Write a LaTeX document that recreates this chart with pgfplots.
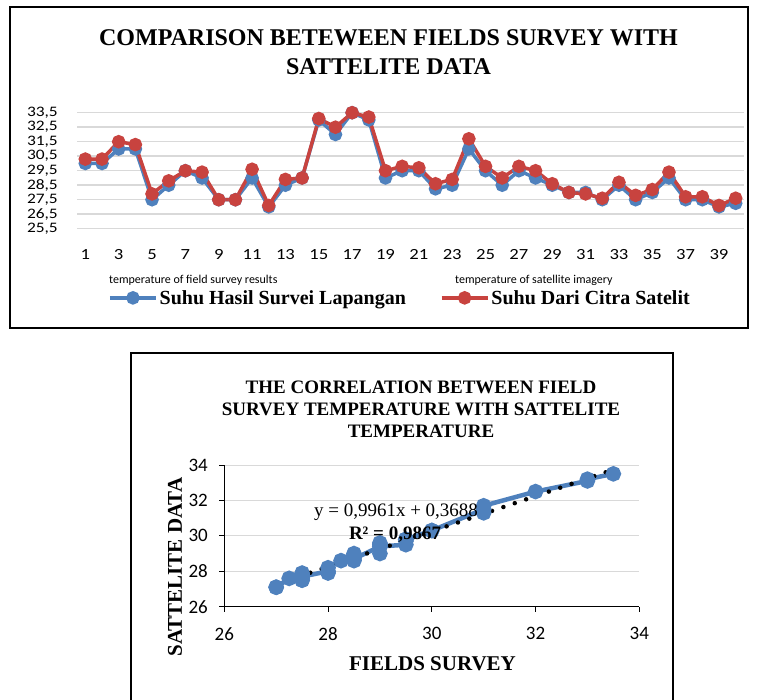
\documentclass[border=0pt]{standalone}
\usepackage{fontspec}
\setmainfont{Liberation Serif}
\newfontfamily\calfont{Carlito}
\newfontfamily\calwide[FakeStretch=1.2]{Carlito}
\usepackage{pgfplots}
\usepackage{pgfplotstable}
\pgfplotsset{compat=1.18}
\definecolor{xblue}{HTML}{4F81BD}
\definecolor{xred}{HTML}{C8433F}
\definecolor{gridc}{HTML}{D9D9D9}

\pgfplotstableread{
idx field sat
1 30.0 30.3
2 30.0 30.3
3 31.0 31.5
4 31.0 31.3
5 27.5 27.9
6 28.5 28.8
7 29.5 29.5
8 29.0 29.4
9 27.5 27.5
10 27.5 27.5
11 29.0 29.6
12 27.0 27.1
13 28.5 28.9
14 29.0 29.0
15 33.0 33.1
16 32.0 32.5
17 33.5 33.5
18 33.0 33.2
19 29.0 29.5
20 29.5 29.8
21 29.5 29.7
22 28.25 28.6
23 28.5 28.9
24 31.0 31.7
25 29.5 29.8
26 28.5 29.0
27 29.5 29.8
28 29.0 29.5
29 28.5 28.6
30 28.0 28.0
31 28.0 27.9
32 27.5 27.6
33 28.5 28.7
34 27.5 27.8
35 28.0 28.2
36 29.0 29.4
37 27.5 27.7
38 27.5 27.7
39 27.0 27.1
40 27.25 27.6
}\data
\pgfplotstablesort[sort key=field]{\sorted}{\data}

\begin{document}
\begin{tikzpicture}
\path[use as bounding box] (0pt,0pt) rectangle (757pt,-700pt);
\draw[line width=2pt] (10pt,-7pt) rectangle (748pt,-328pt);
\draw[line width=1.3pt] (131pt,-701pt) -- (131pt,-353pt) -- (673pt,-353pt) -- (673pt,-701pt);

\node[font=\bfseries\fontsize{24}{29}\selectfont, align=center] at (388.5pt,-52.5pt) {COMPARISON BETEWEEN FIELDS SURVEY WITH\\SATTELITE DATA};

\begin{axis}[
  at={(77pt,-228.7pt)}, anchor=south west,
  scale only axis, width=667pt, height=130.5pt,
  xmin=0.5, xmax=40.5, ymin=25.5, ymax=34.5,
  xtick={1,3,...,39}, ytick={25.5,26.5,...,33.5},
  ymajorgrids, grid style={gridc, line width=1.5pt},
  axis line style={draw=none}, major tick length=0pt,
  yticklabel style={font=\calwide\fontsize{14.5}{14.5}\selectfont, inner sep=0pt, xshift=-19pt,
    /pgf/number format/.cd, fixed, fixed zerofill, precision=1, use comma},
  xticklabel style={font=\calwide\fontsize{15.5}{15.5}\selectfont, yshift=-17pt},
  /pgf/number format/assume math mode=true,
  legend columns=2,
  legend style={at={(0.0465,-0.53)}, anchor=west, draw=none, fill=none, inner sep=0pt,
    font=\bfseries\fontsize{20}{20}\selectfont,
    /tikz/every even column/.append style={column sep=32pt}},
  legend image code/.code={\draw[#1, mark repeat=2, mark phase=2] plot coordinates {(0pt,0pt) (23pt,0pt) (46pt,0pt)};},
]
\addplot[xblue, line width=3.5pt, mark=*, mark size=5pt, mark options={solid}] table[x=idx, y=field]{\data};
\addlegendentry{Suhu Hasil Survei Lapangan}
\addplot[xred, line width=3.5pt, mark=*, mark size=5pt, mark options={solid}] table[x=idx, y=sat]{\data};
\addlegendentry{Suhu Dari Citra Satelit}
\end{axis}

\node[anchor=west, inner sep=0pt, font=\calfont\fontsize{12}{12}\selectfont] at (109pt,-280pt) {temperature of field survey results};
\node[anchor=west, inner sep=0pt, font=\calfont\fontsize{12}{12}\selectfont] at (455pt,-280pt) {temperature of satellite imagery};

\node[font=\bfseries\fontsize{19}{22}\selectfont, align=center] at (421pt,-409pt) {THE CORRELATION BETWEEN FIELD\\SURVEY TEMPERATURE WITH SATTELITE\\TEMPERATURE};

\begin{axis}[
  at={(224.3pt,-606.7pt)}, anchor=south west,
  scale only axis, width=415pt, height=141.7pt,
  xmin=26, xmax=34, ymin=26, ymax=34,
  xtick={26,28,...,34}, ytick={26,28,...,34},
  axis x line*=bottom, axis y line*=left,
  axis line style={black, line width=1pt, -},
  tick style={black, line width=1pt}, tick align=outside, major tick length=5pt,
  ymajorgrids, grid style={gridc, line width=1pt},
  tick label style={font=\calfont\fontsize{19}{19}\selectfont},
  xticklabel style={yshift=-12pt},
  yticklabel style={xshift=-8pt},
  /pgf/number format/assume math mode=true,
]
\addplot[xblue, line width=4.5pt, mark=*, mark size=5.5pt, mark options={solid}] table[x=field, y=sat]{\sorted};
\addplot[black, line width=4.5pt, line cap=round, dash pattern=on 0pt off 12pt] coordinates {(27,27.2635) (33.5,33.7382)};
\end{axis}

\node[font=\fontsize{19}{19}\selectfont] at (396pt,-512pt) {y = 0,9961x + 0,3688};
\node[font=\bfseries\fontsize{19}{19}\selectfont] at (395pt,-535pt) {R² = 0,9867};
\node[rotate=90, font=\bfseries\fontsize{21}{21}\selectfont] at (175pt,-567pt) {SATTELITE DATA};
\node[font=\bfseries\fontsize{21}{21}\selectfont] at (432.5pt,-663.3pt) {FIELDS SURVEY};
\end{tikzpicture}
\end{document}
